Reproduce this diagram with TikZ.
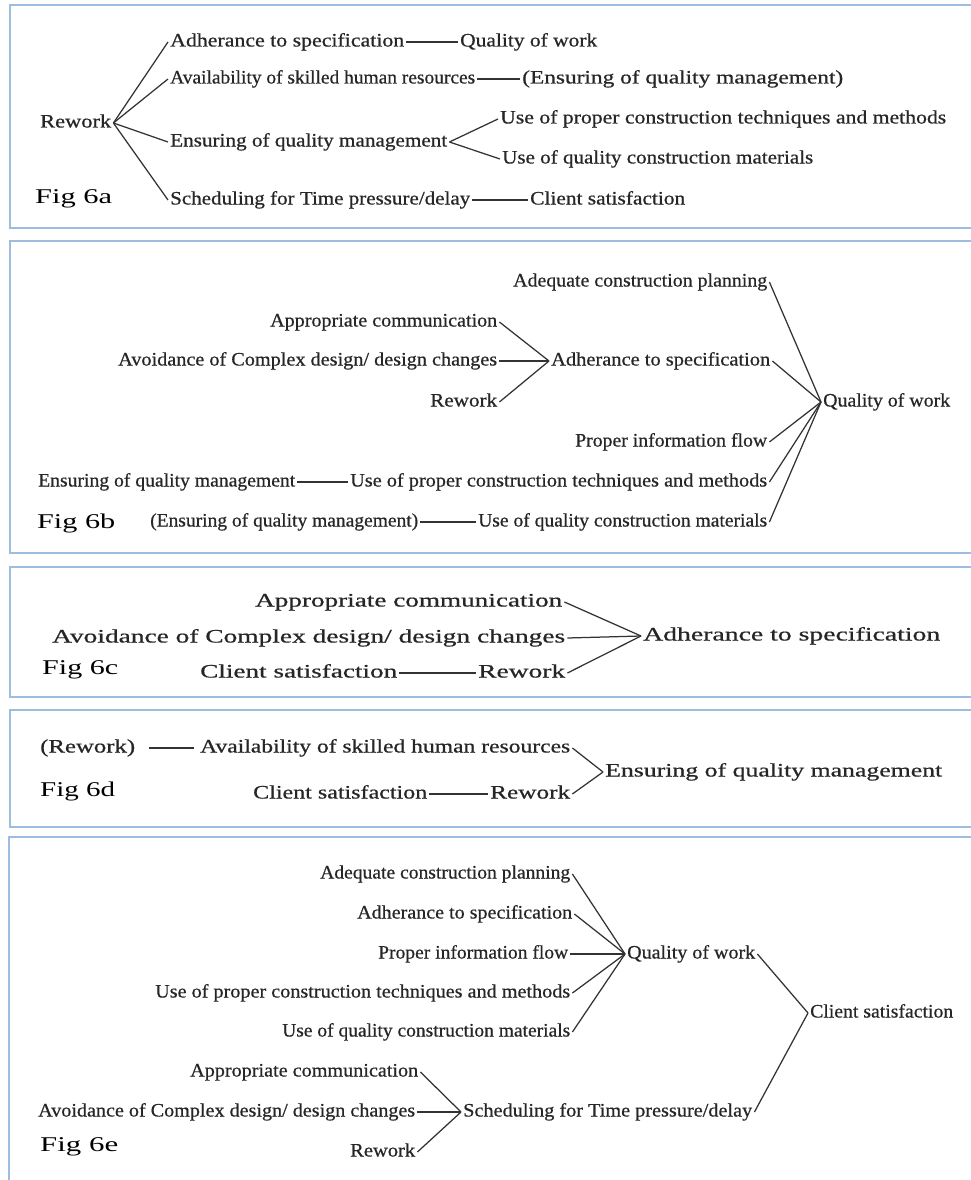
\documentclass[tikz,border=0pt]{standalone}
\usepackage{fontspec}
\setmainfont{Liberation Serif}
\newfontfamily\lblfont[FakeBold=0.6]{Liberation Serif}
\usepackage{graphicx}
\definecolor{frame}{RGB}{158,188,224}
\tikzset{
  lbl/.style={inner sep=2pt, text height=13pt, text depth=4pt, font=\lblfont\fontsize{19}{22}\selectfont, text=black!85},
  figlbl/.style={inner sep=2pt, text height=14pt, text depth=4pt, font=\fontsize{21}{24}\selectfont, text=black},
  con/.style={line width=1.25pt, draw=black!80},
  panel/.style={draw=frame, line width=2.6pt}
}
% \mytxt[style]{name}{left x}{right x}{y}{text}
\newcommand{\mytxt}[6][lbl]{\node[#1,anchor=west] (#2) at (#3-2,#5+2) {\resizebox{\dimexpr#4pt-#3pt\relax}{\height}{#6}};}
\begin{document}
\begin{tikzpicture}[x=1pt,y=-1pt]
\useasboundingbox (0,0) rectangle (971,1180);
\begin{scope}
\clip (0,0) rectangle (971,1180);
\draw[panel] (10,5) rectangle (990,228);
\draw[panel] (10,241) rectangle (990,553);
\draw[panel] (10,567) rectangle (990,697);
\draw[panel] (10,710) rectangle (990,827);
\draw[panel] (9,837) rectangle (990,1200);
\end{scope}

% ---------- Fig 6a ----------
\mytxt{rwA}{40}{111}{121}{Rework}
\mytxt{adhA}{170}{404}{40}{Adherance to specification}
\mytxt{qowA}{460}{597}{40}{Quality of work}
\mytxt{avaA}{170}{475}{77}{Availability of skilled human resources}
\mytxt{ensqA}{522}{843}{77}{(Ensuring of quality management)}
\mytxt{ensA}{170}{447}{140}{Ensuring of quality management}
\mytxt{upcA}{500}{946}{117}{Use of proper construction techniques and methods}
\mytxt{uqcA}{502}{813}{157}{Use of quality construction materials}
\mytxt{schA}{170}{470}{198}{Scheduling for Time pressure/delay}
\mytxt{csA}{530}{685}{198}{Client satisfaction}
\mytxt[figlbl]{figA}{35}{112}{196}{Fig 6a}
\draw[con] (rwA.east) -- (adhA.west);
\draw[con] (rwA.east) -- (avaA.west);
\draw[con] (rwA.east) -- (ensA.west);
\draw[con] (rwA.east) -- (schA.west);
\draw[con] (adhA.east) -- (qowA.west);
\draw[con] (avaA.east) -- (ensqA.west);
\draw[con] (ensA.east) -- (upcA.west);
\draw[con] (ensA.east) -- (uqcA.west);
\draw[con] (schA.east) -- (csA.west);

% ---------- Fig 6b ----------
\mytxt{acpB}{513}{767}{280}{Adequate construction planning}
\mytxt{acB}{270}{497}{320}{Appropriate communication}
\mytxt{avB}{118}{497}{359}{Avoidance of Complex design/ design changes}
\mytxt{rwB}{430}{497}{400}{Rework}
\mytxt{adhB}{551}{770}{359}{Adherance to specification}
\mytxt{qowB}{823}{950}{400}{Quality of work}
\mytxt{pifB}{575}{767}{440}{Proper information flow}
\mytxt{upcB}{350}{767}{480}{Use of proper construction techniques and methods}
\mytxt{uqcB}{478}{767}{520}{Use of quality construction materials}
\mytxt{ensB}{38}{295}{480}{Ensuring of quality management}
\mytxt{ensqB}{150}{418}{520}{(Ensuring of quality management)}
\mytxt[figlbl]{figB}{37}{115}{521}{Fig 6b}
\draw[con] (acB.east) -- (adhB.west);
\draw[con] (avB.east) -- (adhB.west);
\draw[con] (rwB.east) -- (adhB.west);
\draw[con] (acpB.east) -- (qowB.west);
\draw[con] (adhB.east) -- (qowB.west);
\draw[con] (pifB.east) -- (qowB.west);
\draw[con] (upcB.east) -- (qowB.west);
\draw[con] (uqcB.east) -- (qowB.west);
\draw[con] (ensB.east) -- (upcB.west);
\draw[con] (ensqB.east) -- (uqcB.west);

% ---------- Fig 6c ----------
\mytxt{acC}{255}{562}{600}{Appropriate communication}
\mytxt{avC}{52}{565}{636}{Avoidance of Complex design/ design changes}
\mytxt{csC}{200}{397}{671}{Client satisfaction}
\mytxt{rwC}{478}{565}{671}{Rework}
\mytxt{adhC}{643}{940}{634}{Adherance to specification}
\mytxt[figlbl]{figC}{42}{118}{667}{Fig 6c}
\draw[con] (acC.east) -- (adhC.west);
\draw[con] (avC.east) -- (adhC.west);
\draw[con] (rwC.east) -- (adhC.west);
\draw[con] (csC.east) -- (rwC.west);

% ---------- Fig 6d ----------
\mytxt{rwpD}{40}{135}{746}{(Rework)}
\mytxt{avaD}{200}{570}{746}{Availability of skilled human resources}
\mytxt{csD}{253}{427}{792}{Client satisfaction}
\mytxt{rwD}{490}{570}{792}{Rework}
\mytxt{ensD}{605}{942}{770}{Ensuring of quality management}
\mytxt[figlbl]{figD}{40}{115}{789}{Fig 6d}
\draw[con] ([xshift=12pt]rwpD.east) -- ([xshift=-4pt]avaD.west);
\draw[con] (csD.east) -- (rwD.west);
\draw[con] (avaD.east) -- (ensD.west);
\draw[con] (rwD.east) -- (ensD.west);

% ---------- Fig 6e ----------
\mytxt{acpE}{320}{570}{872}{Adequate construction planning}
\mytxt{adhE}{357}{572}{912}{Adherance to specification}
\mytxt{pifE}{378}{568}{952}{Proper information flow}
\mytxt{upcE}{155}{570}{991}{Use of proper construction techniques and methods}
\mytxt{uqcE}{282}{570}{1030}{Use of quality construction materials}
\mytxt{qowE}{627}{755}{952}{Quality of work}
\mytxt{csE}{810}{953}{1011}{Client satisfaction}
\mytxt{acE}{190}{418}{1070}{Appropriate communication}
\mytxt{avE}{38}{415}{1110}{Avoidance of Complex design/ design changes}
\mytxt{rwE}{350}{415}{1150}{Rework}
\mytxt{schE}{463}{752}{1110}{Scheduling for Time pressure/delay}
\mytxt[figlbl]{figE}{40}{118}{1144}{Fig 6e}
\draw[con] (acpE.east) -- (qowE.west);
\draw[con] (adhE.east) -- (qowE.west);
\draw[con] (pifE.east) -- (qowE.west);
\draw[con] (upcE.east) -- (qowE.west);
\draw[con] (uqcE.east) -- (qowE.west);
\draw[con] (qowE.east) -- (csE.west);
\draw[con] (schE.east) -- (csE.west);
\draw[con] (acE.east) -- (schE.west);
\draw[con] (avE.east) -- (schE.west);
\draw[con] (rwE.east) -- (schE.west);
\end{tikzpicture}
\end{document}
